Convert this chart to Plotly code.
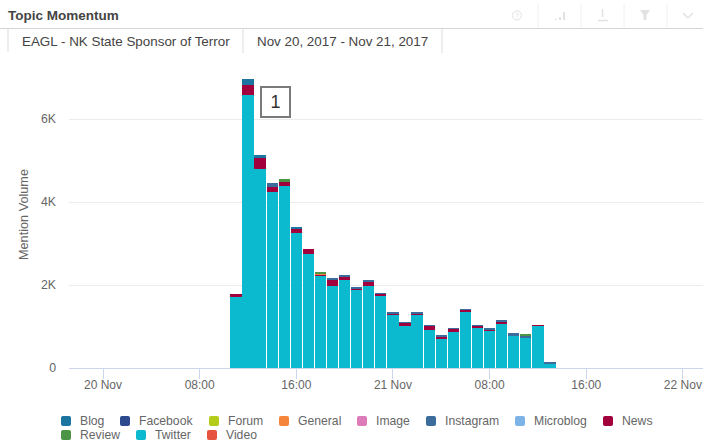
import plotly.graph_objects as go

start_hours = list(range(11, 38))
twitter = [1710, 6580, 4795, 4250, 4390, 3245, 2747, 2217, 1976, 2120, 1880, 1976, 1752, 1277, 1012, 1277, 916, 706, 867, 1357, 964, 908, 1060, 778, 723, 1012, 104]
news = [70, 240, 260, 121, 92, 110, 113, 35, 160, 90, 40, 105, 45, 20, 85, 20, 100, 60, 80, 45, 55, 12, 65, 12, 0, 24, 6]
blog = [0, 140, 75, 0, 0, 35, 0, 0, 0, 0, 0, 0, 0, 0, 0, 0, 0, 0, 0, 0, 0, 0, 0, 0, 0, 0, 0]
instagram = [0, 0, 0, 87, 0, 0, 0, 0, 16, 23, 32, 23, 10, 60, 11, 60, 12, 22, 9, 12, 9, 20, 8, 45, 50, 0, 35]
general = [0, 0, 0, 0, 0, 0, 0, 35, 0, 0, 0, 0, 0, 0, 0, 0, 0, 0, 0, 0, 0, 0, 0, 0, 0, 0, 0]
review = [0, 0, 0, 0, 68, 0, 0, 26, 0, 0, 0, 0, 0, 0, 0, 0, 0, 0, 0, 0, 0, 0, 0, 0, 46, 0, 0]
empty = [0] * 27

legend_row1 = ["Blog", "Facebook", "Forum", "General", "Image", "Instagram", "Microblog", "News"]
legend_row1_x = [66, 125, 214, 284, 362, 431, 520, 608]
legend_row2 = ["Review", "Twitter", "Video"]
legend_row2_x = [66, 141, 212]
colors = {"Blog": "#1c75a1", "Facebook": "#2d4a8f", "Forum": "#b3cb1b", "General": "#f5853a",
          "Image": "#dd7ab8", "Instagram": "#3b6c9c", "Microblog": "#7db3e6", "News": "#a1003d",
          "Review": "#4c9446", "Twitter": "#0bbacf", "Video": "#e6533e"}
series = [("Twitter", twitter), ("News", news), ("Blog", blog), ("Instagram", instagram),
          ("General", general), ("Review", review), ("Facebook", empty), ("Forum", empty),
          ("Image", empty), ("Microblog", empty), ("Video", empty)]

tick_hours = [0, 8, 16, 24, 32, 40, 48]
tick_labels = ["20 Nov", "08:00", "16:00", "21 Nov", "08:00", "16:00", "22 Nov"]

W, H = 703, 442
L, R, T, B = 69, 703, 70, 368
PXPERHOUR = 12.08
X0PX = 103


def stamp(h):
    day = 20 + int(h // 24)
    hour = int(h % 24)
    minute = int((h - int(h)) * 60)
    return f"2017-11-{day:02d} {hour:02d}:{minute:02d}:00"


def px(x):
    return (x - L) / (R - L)


def py(y):
    return (B - y) / (B - T)


fig = go.Figure()
times = [stamp(h) for h in start_hours]
for name, vals in series:
    fig.add_trace(go.Bar(x=times, y=vals, name=name, marker=dict(color=colors[name], line_width=0),
                         width=3600000 * 0.93, showlegend=False))

shapes = []
annos = []


def line(x0, y0, x1, y1, color, w=1):
    shapes.append(dict(type="line", xref="paper", yref="paper", x0=px(x0), y0=py(y0), x1=px(x1), y1=py(y1),
                       line=dict(color=color, width=w), layer="above"))


def text(x, y, s, size=12, color="#666666", anchor="left", bold=False, angle=0):
    annos.append(dict(xref="paper", yref="paper", x=px(x), y=py(y), text=f"<b>{s}</b>" if bold else s,
                      showarrow=False, xanchor=anchor, yanchor="middle", textangle=angle,
                      font=dict(size=size, color=color), borderpad=0, borderwidth=0))


# header
text(8, 16, "Topic Momentum", 13.5, "#444444", bold=True)
line(0, 28.5, 703, 28.5, "#d5d5d5")
line(8, 29, 8, 52, "#dddddd")
line(243, 29, 243, 53, "#dddddd")
line(442, 29, 442, 53, "#dddddd")
text(22, 41, "EAGL - NK State Sponsor of Terror", 13.4, "#444444")
text(257, 41, "Nov 20, 2017 - Nov 21, 2017", 13.4, "#444444")
for sx in [538, 581, 624, 667]:
    line(sx, 3, sx, 27, "#f0f0f0")
ic = "#e2e2e2"
shapes.append(dict(type="circle", xref="paper", yref="paper", x0=px(512.5), x1=px(521.5), y0=py(11), y1=py(20),
                   line=dict(color=ic, width=1)))
text(517, 15.5, "?", 7, ic, "center")
for bx, by in [(556, 19), (560, 17), (564, 12)]:
    line(bx, by, bx, 20, ic, 2)
line(602.5, 9, 602.5, 17, ic, 1.5)
line(598, 20.5, 608, 20.5, ic, 1.5)
shapes.append(dict(type="path", xref="paper", yref="paper",
                   path=f"M{px(640)},{py(10)} L{px(650)},{py(10)} L{px(646.5)},{py(15)} L{px(646.5)},{py(20)} "
                        f"L{px(643.5)},{py(20)} L{px(643.5)},{py(15)} Z",
                   fillcolor=ic, line=dict(color=ic, width=0)))
line(683, 13, 688, 18, ic, 1.5)
line(688, 18, 693, 13, ic, 1.5)

# y axis title
text(24, 215, "Mention Volume", 12.7, "#666666", "center", angle=-90)

# annotation box
annos.append(dict(xref="paper", yref="paper", x=px(275.5), y=py(101.5), text="1", showarrow=False,
                  xanchor="center", yanchor="middle", font=dict(size=18, color="#333333"),
                  width=27, height=28, bgcolor="#ffffff", bordercolor="#7a7a7a", borderwidth=2, borderpad=0))

# legend
for row, xs, yy in [(legend_row1, legend_row1_x, 421), (legend_row2, legend_row2_x, 435)]:
    for name, x in zip(row, xs):
        a, b, c, d = px(x - 5), px(x + 5), py(yy + 5), py(yy - 5)
        rx = 2 / (R - L)
        ry = 2 / (B - T)
        path = (f"M{a+rx},{d} L{b-rx},{d} Q{b},{d} {b},{d-ry} L{b},{c+ry} Q{b},{c} {b-rx},{c} "
                f"L{a+rx},{c} Q{a},{c} {a},{c+ry} L{a},{d-ry} Q{a},{d} {a+rx},{d} Z")
        shapes.append(dict(type="path", xref="paper", yref="paper", path=path, fillcolor=colors[name],
                           line=dict(width=0)))
        text(x + 14, yy, name, 12.2, "#666666")

x_hi = (R - X0PX) / PXPERHOUR

fig.update_layout(
    width=W, height=H, autosize=False, barmode="stack", bargap=0,
    margin=dict(l=L, r=W - R, t=T, b=H - B, pad=0),
    plot_bgcolor="white", paper_bgcolor="white",
    font=dict(family="Liberation Sans, Arial, sans-serif", size=12, color="#666666"),
    shapes=shapes, annotations=annos,
    xaxis=dict(type="date", range=["2017-11-19 21:11:00", stamp(x_hi)],
               tickmode="array", tickvals=[stamp(h) for h in tick_hours], ticktext=tick_labels,
               ticks="outside", ticklen=10, tickcolor="#ccd6eb", tickwidth=1, ticklabelstandoff=-4,
               showline=True, linecolor="#ccd6eb", linewidth=1, showgrid=False, zeroline=False,
               tickfont=dict(size=12, color="#666666")),
    yaxis=dict(range=[0, (B - T) / 0.0415], tickmode="array", tickvals=[0, 2000, 4000, 6000],
               ticktext=["0", "2K", "4K", "6K"], showgrid=True, gridcolor="#ececec", gridwidth=1,
               zeroline=False, showline=False, ticks="", ticklabelstandoff=12,
               tickfont=dict(size=12.3, color="#666666")),
)

fig.write_html("out.html", config={"displayModeBar": False}, post_script="document.body.style.margin='0';")
